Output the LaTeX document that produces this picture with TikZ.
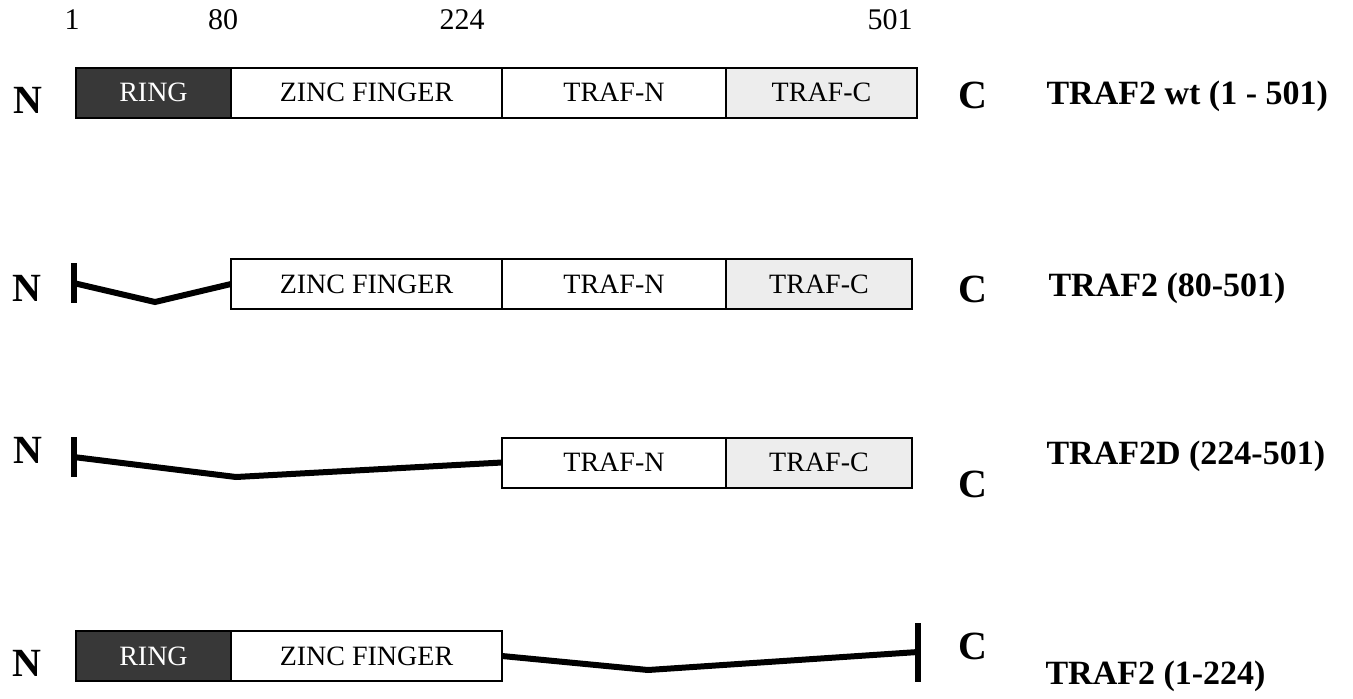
\documentclass[tikz,border=0pt]{standalone}
\usepackage{fontspec}
\setmainfont{Liberation Serif}
\usetikzlibrary{positioning}

\begin{document}
\begin{tikzpicture}[x=1pt, y=-1pt,
  dom/.style ={draw, line width=2pt, minimum height=50pt, inner sep=0pt,
               outer sep=0pt, font=\fontsize{28}{30}\selectfont},
  ring/.style={dom, fill=black!78, text=white},
  tc/.style  ={dom, fill=black!7},
  bar/.style ={fill=black, inner sep=0pt, outer sep=0pt, minimum width=6pt},
  link/.style={line width=6pt},
  num/.style ={font=\fontsize{30}{32}\selectfont},
  term/.style={font=\fontsize{40}{44}\selectfont\bfseries},
  lbl/.style ={anchor=west, font=\fontsize{34}{38}\selectfont\bfseries}]

\useasboundingbox (0,0) rectangle (1353,699);

% residue numbers
\foreach \x/\n in {72/1,223/80,462/224,890/501}
  \node[num] (p\n) at (\x,20) {\n};

% TRAF2 wt
\node[ring, minimum width=155pt, anchor=west] (ring1) at (76,92.5) {RING};
\node[dom, minimum width=271pt, right=0pt of ring1] (zf1) {ZINC FINGER};
\node[dom, minimum width=224pt, right=0pt of zf1] (tn1) {TRAF-N};
\node[tc, minimum width=191pt, right=0pt of tn1] (tc1) {TRAF-C};
\node[term] (n1) at (28,100) {N};
\node[term] (c1) at (973,95) {C};
\node[lbl] (l1) at (1043,96) {TRAF2 wt (1 - 501)};

% TRAF2 (80-501)
\node[dom, minimum width=271pt, anchor=west] (zf2) at (231,284) {ZINC FINGER};
\node[dom, minimum width=224pt, right=0pt of zf2] (tn2) {TRAF-N};
\node[tc, minimum width=186pt, right=0pt of tn2] (tc2) {TRAF-C};
\node[bar, minimum height=40pt] (end2) at (73.5,283) {};
\coordinate (dip2) at (155,302);
\draw[link] (end2.center) -- (dip2) -- (zf2.west);
\node[term] (n2) at (27,288) {N};
\node[term] (c2) at (973,289) {C};
\node[lbl] (l2) at (1045,288) {TRAF2 (80-501)};

% TRAF2D (224-501)
\node[dom, minimum width=224pt, anchor=west] (tn3) at (502,462.5) {TRAF-N};
\node[tc, minimum width=186pt, right=0pt of tn3] (tc3) {TRAF-C};
\node[bar, minimum height=40pt] (end3) at (73.5,457) {};
\coordinate (dip3) at (236,477);
\draw[link] (end3.center) -- (dip3) -- (tn3.west);
\node[term] (n3) at (28,450) {N};
\node[term] (c3) at (973,484) {C};
\node[lbl] (l3) at (1043,456) {TRAF2D (224-501)};

% TRAF2 (1-224)
\node[ring, minimum width=155pt, anchor=west] (ring4) at (76,656) {RING};
\node[dom, minimum width=271pt, right=0pt of ring4] (zf4) {ZINC FINGER};
\node[bar, minimum height=59pt] (end4) at (918,652) {};
\coordinate (dip4) at (648,670);
\draw[link] (zf4.east) -- (dip4) -- (end4.center);
\node[term] (n4) at (27,663) {N};
\node[term] (c4) at (973,646) {C};
\node[lbl] (l4) at (1042,676) {TRAF2 (1-224)};
\end{tikzpicture}
\end{document}
